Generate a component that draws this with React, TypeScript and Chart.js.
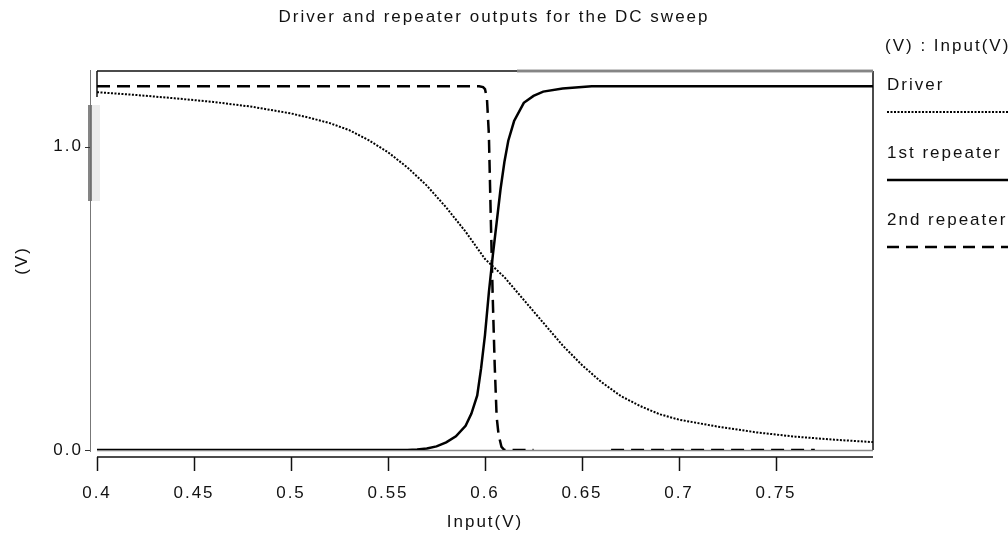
import React, { useEffect, useRef } from 'react';
import { Chart, registerables } from 'chart.js';

Chart.register(...registerables);

const FONT = "'Liberation Sans', Arial, sans-serif";
const TEXT_COLOR = '#111';

const TITLE = 'Driver and repeater outputs for the DC sweep';
const X_TITLE = 'Input(V)';
const Y_TITLE = '(V)';
const LEGEND_HEADER = '(V) : Input(V)';
const SERIES_NAMES = ['Driver', '1st repeater', '2nd repeater'];

const X_TICKS = [0.4, 0.45, 0.5, 0.55, 0.6, 0.65, 0.7, 0.75];
const X_TICK_LABELS = ['0.4', '0.45', '0.5', '0.55', '0.6', '0.65', '0.7', '0.75'];
const Y_TICKS = [0, 1];
const Y_TICK_LABELS = ['0.0', '1.0'];

// Driver (dotted)
const driverX = [0.4, 0.42, 0.44, 0.46, 0.48, 0.5, 0.51, 0.52, 0.53, 0.54, 0.55, 0.56, 0.57, 0.58, 0.59, 0.6, 0.605, 0.61, 0.62, 0.63, 0.64, 0.65, 0.66, 0.67, 0.68, 0.69, 0.7, 0.72, 0.74, 0.76, 0.78, 0.8];
const driverY = [1.18, 1.171, 1.16, 1.148, 1.132, 1.11, 1.095, 1.078, 1.055, 1.022, 0.982, 0.932, 0.872, 0.8, 0.72, 0.63, 0.6, 0.57, 0.495, 0.42, 0.345, 0.28, 0.224, 0.178, 0.145, 0.118, 0.1, 0.077, 0.058, 0.044, 0.034, 0.026];

// 1st repeater (solid)
const rep1X = [0.4, 0.56, 0.565, 0.57, 0.575, 0.58, 0.585, 0.59, 0.593, 0.596, 0.598, 0.6, 0.602, 0.604, 0.606, 0.608, 0.61, 0.612, 0.615, 0.62, 0.625, 0.63, 0.64, 0.65, 0.655, 0.8];
const rep1Y = [0, 0, 0.002, 0.005, 0.012, 0.025, 0.045, 0.08, 0.12, 0.18, 0.27, 0.38, 0.52, 0.64, 0.75, 0.86, 0.95, 1.02, 1.085, 1.145, 1.168, 1.182, 1.192, 1.197, 1.2, 1.2];

// 2nd repeater (dashed)
const rep2X = [0.4, 0.597, 0.599, 0.6, 0.601, 0.602, 0.603, 0.604, 0.605, 0.606, 0.607, 0.6085, 0.61, 0.625, 0.645, 0.665, 0.77];
const rep2Y: (number | null)[] = [1.2, 1.2, 1.197, 1.19, 1.16, 1.04, 0.76, 0.5, 0.28, 0.11, 0.05, 0.01, 0, 0, null, 0, 0];

const toPoints = (xs: number[], ys: (number | null)[]) => xs.map((x, i) => ({ x, y: ys[i] }));

const labelFor = (ticks: number[], labels: string[], v: number) => {
  const i = ticks.findIndex((t) => Math.abs(t - v) < 1e-9);
  return i >= 0 ? labels[i] : '';
};

const decor = {
  id: 'decor',
  beforeDraw(chart: any) {
    chart.ctx.letterSpacing = '2px';
  },
  beforeDatasetsDraw(chart: any) {
    const { ctx, chartArea: a, scales } = chart;
    const xs = scales.x;
    const ys = scales.y;
    const yAxisX = a.left - 7;
    const xAxisY = a.bottom + 7;
    ctx.save();
    ctx.setLineDash([]);
    // y axis line
    ctx.strokeStyle = '#777';
    ctx.lineWidth = 1;
    ctx.beginPath();
    ctx.moveTo(yAxisX + 0.5, a.top - 1);
    ctx.lineTo(yAxisX + 0.5, a.bottom + 2);
    ctx.stroke();
    // gray band on y axis
    ctx.fillStyle = 'rgba(110,110,110,0.85)';
    ctx.fillRect(yAxisX - 2, a.top + 34, 4, 96);
    ctx.fillStyle = 'rgba(200,200,200,0.35)';
    ctx.fillRect(yAxisX + 2, a.top + 34, 8, 96);
    // y ticks
    ctx.strokeStyle = '#333';
    Y_TICKS.forEach((v) => {
      const py = Math.round(ys.getPixelForValue(v)) + 0.5;
      ctx.beginPath();
      ctx.moveTo(yAxisX - 5, py);
      ctx.lineTo(yAxisX, py);
      ctx.stroke();
    });
    // x axis line
    ctx.strokeStyle = '#111';
    ctx.lineWidth = 1.5;
    ctx.beginPath();
    ctx.moveTo(a.left, xAxisY);
    ctx.lineTo(a.right, xAxisY);
    ctx.stroke();
    X_TICKS.forEach((v) => {
      const px = Math.round(xs.getPixelForValue(v)) + 0.5;
      ctx.beginPath();
      ctx.moveTo(px, xAxisY);
      ctx.lineTo(px, xAxisY + 14);
      ctx.stroke();
    });
    // frame
    ctx.strokeStyle = '#111';
    ctx.lineWidth = 1.5;
    ctx.beginPath();
    ctx.moveTo(a.left, a.top);
    ctx.lineTo(a.right, a.top);
    ctx.moveTo(a.right, a.top);
    ctx.lineTo(a.right, a.bottom);
    ctx.moveTo(a.left, a.top);
    ctx.lineTo(a.left, a.top + 26);
    ctx.stroke();
    ctx.strokeStyle = 'rgba(140,140,140,0.9)';
    ctx.lineWidth = 3;
    ctx.beginPath();
    ctx.moveTo(xs.getPixelForValue(0.6165), a.top);
    ctx.lineTo(a.right, a.top);
    ctx.stroke();
    ctx.strokeStyle = '#888';
    ctx.lineWidth = 1.5;
    ctx.beginPath();
    ctx.moveTo(a.left, a.bottom + 0.5);
    ctx.lineTo(a.right, a.bottom + 0.5);
    ctx.stroke();
    ctx.restore();
  },
  afterDraw(chart: any) {
    const { ctx } = chart;
    ctx.save();
    ctx.letterSpacing = '2px';
    ctx.fillStyle = TEXT_COLOR;
    ctx.font = `17px ${FONT}`;
    ctx.textBaseline = 'middle';
    ctx.textAlign = 'center';
    ctx.fillText(TITLE, 494, 17);
    ctx.textAlign = 'left';
    ctx.fillText(LEGEND_HEADER, 885, 46);
    const textYs = [85, 153, 220];
    const lineYs = [112, 180, 247];
    const dashes = [[2, 1.5], [], [12, 7]];
    const widths = [2, 2.5, 2.5];
    SERIES_NAMES.forEach((name, i) => {
      ctx.fillText(name, 887, textYs[i]);
      ctx.setLineDash(dashes[i]);
      ctx.lineWidth = widths[i];
      ctx.strokeStyle = '#000';
      ctx.beginPath();
      ctx.moveTo(887, lineYs[i]);
      ctx.lineTo(1008, lineYs[i]);
      ctx.stroke();
    });
    ctx.restore();
  },
};

export default function App() {
  const ref = useRef<HTMLCanvasElement | null>(null);
  useEffect(() => {
    if (!ref.current) return;
    const chart = new Chart(ref.current, {
      type: 'line',
      data: {
        datasets: [
          {
            label: SERIES_NAMES[0],
            data: toPoints(driverX, driverY) as any,
            borderColor: '#000',
            borderWidth: 2,
            borderDash: [2, 1.5],
            pointRadius: 0,
            tension: 0,
          },
          {
            label: SERIES_NAMES[1],
            data: toPoints(rep1X, rep1Y) as any,
            borderColor: '#000',
            borderWidth: 2.5,
            pointRadius: 0,
            tension: 0,
          },
          {
            label: SERIES_NAMES[2],
            data: toPoints(rep2X, rep2Y) as any,
            borderColor: '#000',
            borderWidth: 2.5,
            borderDash: [13, 7],
            pointRadius: 0,
            tension: 0,
            spanGaps: false,
          },
        ],
      },
      options: {
        responsive: false,
        animation: false,
        layout: { padding: { left: 0, right: 135, top: 71, bottom: 0 } },
        plugins: {
          legend: { display: false },
          title: { display: false },
          tooltip: { enabled: false },
        },
        scales: {
          x: {
            type: 'linear',
            min: 0.4,
            max: 0.8,
            afterFit: (s: any) => {
              s.height = 85;
            },
            afterBuildTicks: (s: any) => {
              s.ticks = X_TICKS.map((v) => ({ value: v }));
            },
            grid: { display: false, drawTicks: false },
            border: { display: false },
            ticks: {
              autoSkip: false,
              maxRotation: 0,
              minRotation: 0,
              padding: 33,
              color: TEXT_COLOR,
              font: { family: FONT, size: 17 },
              callback: (v: any) => labelFor(X_TICKS, X_TICK_LABELS, Number(v)),
            },
            title: {
              display: true,
              text: X_TITLE,
              color: TEXT_COLOR,
              font: { family: FONT, size: 17 },
              padding: { top: 0, bottom: 2 },
            },
          },
          y: {
            type: 'linear',
            min: 0,
            max: 1.25,
            afterFit: (s: any) => {
              s.width = 97;
            },
            afterBuildTicks: (s: any) => {
              s.ticks = Y_TICKS.map((v) => ({ value: v }));
            },
            grid: { display: false, drawTicks: false },
            border: { display: false },
            ticks: {
              padding: 14,
              color: TEXT_COLOR,
              font: { family: FONT, size: 17 },
              callback: (v: any) => labelFor(Y_TICKS, Y_TICK_LABELS, Number(v)),
            },
            title: {
              display: true,
              text: Y_TITLE,
              color: TEXT_COLOR,
              font: { family: FONT, size: 17 },
              padding: { top: 12, bottom: 0 },
            },
          },
        },
      },
      plugins: [decor],
    });
    return () => chart.destroy();
  }, []);
  return (
    <div style={{ position: 'absolute', left: 0, top: 0, width: 1008, height: 535 }}>
      <canvas ref={ref} width={1008} height={535} style={{ display: 'block' }} />
    </div>
  );
}
